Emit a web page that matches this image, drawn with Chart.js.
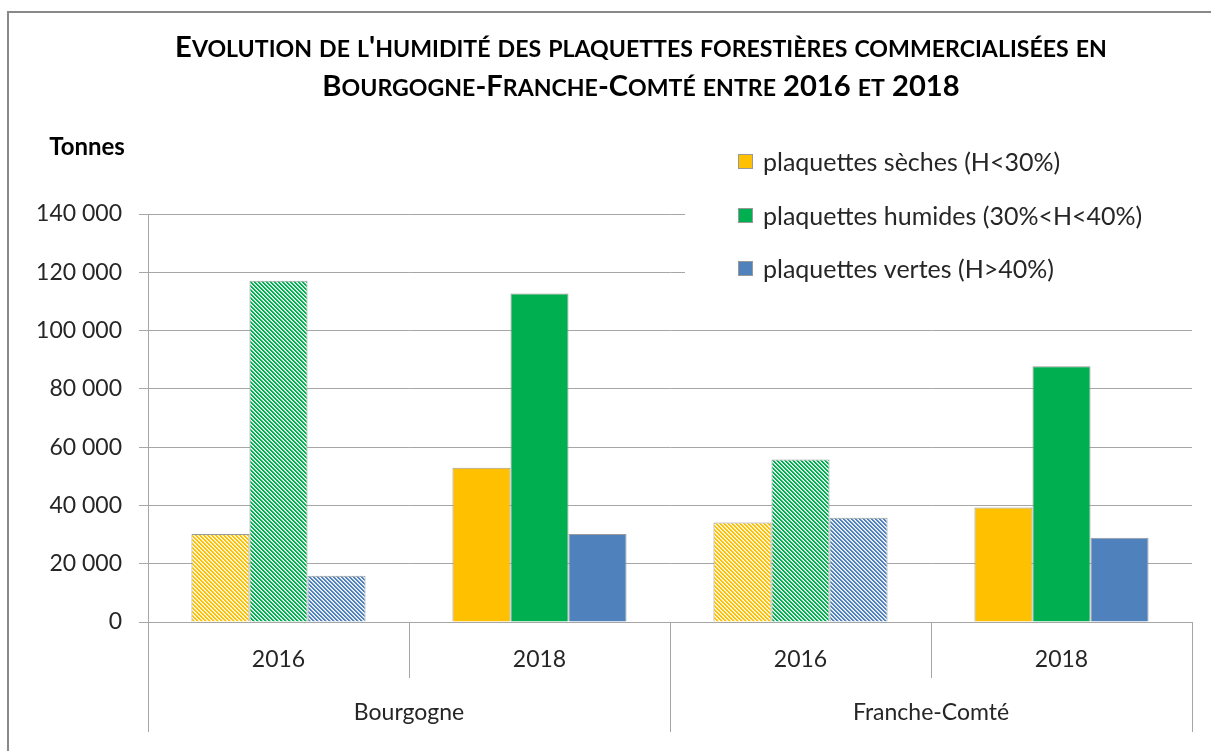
<!DOCTYPE html>
<html>
<head>
<meta charset="utf-8">
<script src="https://cdn.jsdelivr.net/npm/chart.js@4.4.1/dist/chart.umd.min.js"></script>
<style>
  body { margin: 0; background: #fff; }
  #wrap { width: 1211px; height: 751px; position: relative; }
</style>
</head>
<body>
<div id="wrap"><canvas id="chart"></canvas></div>
<script>
// data (tonnes)
const years = ['2016', '2018', '2016', '2018'];
const regions = ['Bourgogne', 'Franche-Comté'];
const seriesNames = ['plaquettes sèches (H<30%)', 'plaquettes humides (30%<H<40%)', 'plaquettes vertes (H>40%)'];
const seches = [30200, 52900, 34100, 39300];
const humides = [117100, 112700, 55800, 87800];
const vertes = [15900, 30200, 35800, 28900];
const hatched = [true, false, true, false];   // 2016 bars are striped
const colors = ['#ffc000', '#00b050', '#4f81bd'];
const titleLines = ["Evolution de l'humidité des plaquettes forestières commercialisées en", 'Bourgogne-Franche-Comté entre 2016 et 2018'];
const yUnit = 'Tonnes';
const yMax = 140000;
const yStep = 20000;

const FONT = 'Lato, "Open Sans", sans-serif';
const GRID = '#a6a6a6';

function stripes(color) {
    const n = 4;
    const c = document.createElement('canvas');
    c.width = n; c.height = n;
    const g = c.getContext('2d');
    g.fillStyle = '#fff';
    g.fillRect(0, 0, n, n);
    for (let y = 0; y < n; y++) {
        for (let x = 0; x < n; x++) {
            const k = (((x - y) % n) + n) % n;
            if (k < 2) {
                g.globalAlpha = 1;
                g.fillStyle = color;
                g.fillRect(x, y, 1, 1);
            } else if (k === 2) {
                g.globalAlpha = 0.35;
                g.fillStyle = color;
                g.fillRect(x, y, 1, 1);
            }
        }
    }
    return g.createPattern(c, 'repeat');
}

function fills(color) {
    const p = stripes(color);
    return hatched.map(h => h ? p : color);
}

function spaced(v) {
    return String(v).replace(/\B(?=(\d{3})+(?!\d))/g, ' ');
}

// small caps title, squeezed to the width of the original
function drawSmallCaps(ctx, text, cx, baseline, big, small, sx) {
    const runs = [];
    for (const ch of text) {
        const size = ch !== ch.toUpperCase() ? small : big;
        const t = ch.toUpperCase();
        if (runs.length && runs[runs.length - 1].size === size) runs[runs.length - 1].t += t;
        else runs.push({ t, size });
    }
    let w = 0;
    runs.forEach(r => {
        ctx.font = `bold ${r.size}px ${FONT}`;
        r.w = ctx.measureText(r.t).width;
        w += r.w;
    });
    ctx.save();
    ctx.translate(cx - w * sx / 2, baseline);
    ctx.scale(sx, 1);
    let x = 0;
    runs.forEach(r => {
        ctx.font = `bold ${r.size}px ${FONT}`;
        ctx.fillText(r.t, x, 0);
        x += r.w;
    });
    ctx.restore();
}

function measureSmallCaps(ctx, text, big, small) {
    let w = 0;
    for (const ch of text) {
        const size = ch !== ch.toUpperCase() ? small : big;
        ctx.font = `bold ${size}px ${FONT}`;
        w += ctx.measureText(ch.toUpperCase()).width;
    }
    return w;
}

const decorPlugin = {
    id: 'decor',
    afterDraw(chart) {
        const ctx = chart.ctx;
        ctx.save();

        // outer frame (cut at right and bottom like the source)
        ctx.strokeStyle = '#898989';
        ctx.lineWidth = 2;
        ctx.strokeRect(8, 12, 1220, 760);

        // title
        ctx.fillStyle = '#000';
        ctx.textBaseline = 'alphabetic';
        const big = 29, small = 23;
        const sx = 934 / measureSmallCaps(ctx, titleLines[0], big, small);
        drawSmallCaps(ctx, titleLines[0], 641, 57, big, small, sx);
        drawSmallCaps(ctx, titleLines[1], 641, 96, big, small, sx);

        // unit label
        ctx.font = `bold 24px ${FONT}`;
        ctx.textAlign = 'center';
        ctx.textBaseline = 'middle';
        ctx.fillText(yUnit, 87, 147);

        // legend, inside the plot, over the grid
        ctx.fillStyle = '#fff';
        ctx.fillRect(685, 132, 512, 158);
        const rows = [162, 216, 269];
        ctx.textAlign = 'left';
        ctx.font = `25px ${FONT}`;
        chart.data.datasets.forEach((ds, i) => {
            ctx.fillStyle = colors[i];
            ctx.fillRect(738.5, rows[i] - 7.5, 14, 14);
            ctx.strokeStyle = '#999';
            ctx.lineWidth = 1;
            ctx.strokeRect(738.5, rows[i] - 7.5, 14, 14);
            ctx.fillStyle = '#262626';
            ctx.fillText(ds.label, 763, rows[i] + 1);
        });
        ctx.restore();
    }
};

const chart = document.querySelector('#chart').getContext('2d');
const humidityChart = new Chart(chart, {
    type: 'bar',
    data: {
        labels: years,
        datasets: [seches, humides, vertes].map((vals, i) => ({
            label: seriesNames[i],
            data: vals,
            backgroundColor: fills(colors[i]),
            borderColor: '#9a9a9a',
            borderWidth: 1,
            categoryPercentage: 0.667,
            barPercentage: 1
        }))
    },
    options: {
        responsive: true,
        maintainAspectRatio: false,
        animation: false,
        layout: { padding: { left: 0, right: 19, top: 214, bottom: 19 } },
        plugins: {
            legend: { display: false },
            title: { display: false },
            tooltip: { enabled: false }
        },
        scales: {
            y: {
                min: 0,
                max: yMax,
                ticks: {
                    stepSize: yStep,
                    padding: 17,
                    color: '#262626',
                    font: { family: FONT, size: 23 },
                    callback: v => spaced(v)
                },
                grid: { color: GRID, lineWidth: 1, tickLength: 9 },
                border: { color: GRID },
                afterFit: s => { s.width = 148; }
            },
            x: {
                ticks: {
                    padding: -32,
                    color: '#262626',
                    font: { family: FONT, size: 23 }
                },
                grid: { offset: true, drawOnChartArea: false, tickLength: 56, color: GRID },
                border: { color: GRID },
                afterFit: s => { s.height = 56; }
            },
            x2: {
                type: 'category',
                position: 'bottom',
                labels: regions,
                ticks: {
                    padding: -33,
                    color: '#262626',
                    font: { family: FONT, size: 23 }
                },
                grid: { offset: true, drawOnChartArea: false, tickLength: 54, color: GRID },
                border: { display: false },
                afterFit: s => { s.height = 54; }
            }
        }
    },
    plugins: [decorPlugin]
});
</script>
</body>
</html>
